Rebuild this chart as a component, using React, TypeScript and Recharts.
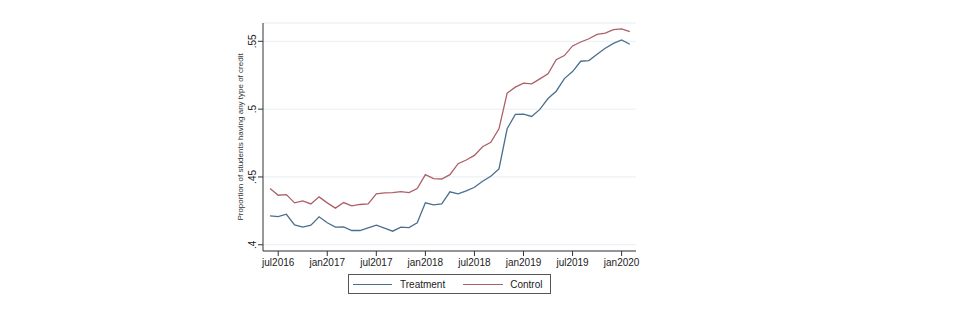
import React from "react";
import { LineChart, Line, XAxis, YAxis, CartesianGrid } from "recharts";

// month index 0 = jun2016 ... 44 = feb2020
const months = Array.from({ length: 45 }, (_, i) => i);

const treatment = [
  0.4213, 0.4208, 0.4225, 0.4147, 0.413, 0.4145, 0.4206, 0.4162, 0.413, 0.4132,
  0.4105, 0.4105, 0.4125, 0.4145, 0.4123, 0.41, 0.413, 0.4127, 0.4162, 0.4309,
  0.4294, 0.4302, 0.439, 0.4375, 0.4397, 0.4424, 0.4468, 0.4505, 0.4559, 0.4855,
  0.4961, 0.4963, 0.4946, 0.4998, 0.5078, 0.5132, 0.5225, 0.5277, 0.5353, 0.5358,
  0.5404, 0.5449, 0.5485, 0.551, 0.5478,
];

const control = [
  0.4414, 0.4365, 0.437, 0.4309, 0.4324, 0.4301, 0.4353, 0.4309, 0.427, 0.4311,
  0.4287, 0.4297, 0.4301, 0.4375, 0.4382, 0.4385, 0.4392, 0.4385, 0.4414, 0.4517,
  0.4488, 0.4485, 0.4517, 0.4598, 0.4625, 0.4659, 0.4723, 0.4755, 0.4855, 0.5118,
  0.5162, 0.5191, 0.5186, 0.5223, 0.526, 0.5365, 0.5395, 0.5466, 0.5495, 0.5519,
  0.5551, 0.5561, 0.5586, 0.5591, 0.5571,
];

const xTicks = [1, 7, 13, 19, 25, 31, 37, 43];
const xTickLabels = ["jul2016", "jan2017", "jul2017", "jan2018", "jul2018", "jan2019", "jul2019", "jan2020"];
const yTicks = [0.4, 0.45, 0.5, 0.55];
const yTickLabels = [".4", ".45", ".5", ".55"];

const data = months.map((m, i) => ({ m, treatment: treatment[i], control: control[i] }));

const BLUE = "#4a6f8e";
const RED = "#ad5f67";
const FONT = "'Liberation Sans', Arial, sans-serif";

const YTick = (props: any) => {
  const { x, y, payload } = props;
  const idx = yTicks.indexOf(payload.value);
  const bx = x;
  return (
    <text
      x={bx}
      y={y}
      transform={`rotate(-90, ${bx}, ${y})`}
      textAnchor="middle"
      fontSize={10}
      fontFamily={FONT}
      fill="#222"
    >
      {idx >= 0 ? yTickLabels[idx] : ""}
    </text>
  );
};

export default function App() {
  return (
    <div style={{ position: "absolute", left: 0, top: 0, width: 953, height: 322, background: "#fff" }}>
      <LineChart
        width={953}
        height={322}
        data={data}
        margin={{ top: 23, right: 317, bottom: 41, left: 223 }}
      >
        <CartesianGrid horizontal vertical={false} stroke="#e8eef3" strokeWidth={1} />
        <XAxis
          dataKey="m"
          type="number"
          domain={[-0.86, 44.76]}
          ticks={xTicks}
          tickFormatter={(v: number) => xTickLabels[xTicks.indexOf(v)] ?? ""}
          height={30}
          tickSize={5}
          tickMargin={3}
          stroke="#333"
          tick={{ fontSize: 10, fontFamily: FONT, fill: "#222" }}
          allowDataOverflow
        />
        <YAxis
          type="number"
          domain={[0.3954, 0.5635]}
          ticks={yTicks}
          width={40}
          tickSize={5}
          stroke="#333"
          tick={<YTick />}
          allowDataOverflow
          label={{
            content: (p: any) => {
              const vb = p.viewBox || { x: 223, y: 23, width: 40, height: 228 };
              const cx = vb.x + 20;
              const cy = vb.y + vb.height / 2;
              return (
                <text
                  x={cx}
                  y={cy}
                  transform={`rotate(-90, ${cx}, ${cy})`}
                  textAnchor="middle"
                  fontSize={8}
                  fontFamily={FONT}
                  fill="#333"
                >
                  Proportion of students having any type of credit
                </text>
              );
            },
          }}
        />
        <Line
          type="linear"
          dataKey="treatment"
          stroke={BLUE}
          strokeWidth={1.3}
          dot={false}
          isAnimationActive={false}
        />
        <Line
          type="linear"
          dataKey="control"
          stroke={RED}
          strokeWidth={1.3}
          dot={false}
          isAnimationActive={false}
        />
      </LineChart>
      <div
        style={{
          position: "absolute",
          left: 348,
          top: 274,
          width: 203,
          height: 20,
          boxSizing: "border-box",
          border: "1px solid #555",
          display: "flex",
          alignItems: "center",
          fontFamily: FONT,
          fontSize: 10,
          color: "#222",
        }}
      >
        <span style={{ marginLeft: 4, width: 39, height: 0, borderTop: `1.3px solid ${BLUE}` }} />
        <span style={{ marginLeft: 8 }}>Treatment</span>
        <span style={{ marginLeft: 18, width: 40, height: 0, borderTop: `1.3px solid ${RED}` }} />
        <span style={{ marginLeft: 7 }}>Control</span>
      </div>
    </div>
  );
}
